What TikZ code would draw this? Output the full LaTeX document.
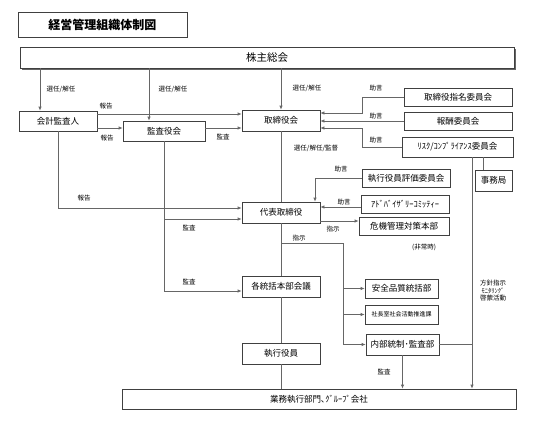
\documentclass[tikz,border=0pt]{standalone}
\usepackage{fontspec}
\setmainfont{Noto Sans CJK JP}
\usetikzlibrary{arrows.meta,shadows}

\begin{document}
\begin{tikzpicture}
  [x=1pt,y=-1pt,
   box/.style={draw=black!75,line width=.7pt,fill=white,inner sep=1pt,font=\fontsize{8.5}{10}\selectfont},
   lbl/.style={inner sep=0pt,font=\fontsize{6.5}{7.5}\selectfont},
   line/.style={draw=black!60,line width=.7pt},
   arr/.style={line,-{Latex[length=4pt,width=3.5pt]}}]

  \fill[white] (0,0) rectangle (552,432);
  \useasboundingbox (0,0) rectangle (552,432);

  % boxes
  \node (title)[box,minimum width=169pt,minimum height=25pt,font=\fontsize{12}{14}\selectfont\bfseries] at (102.5,24.5) {経営管理組織体制図};
  \node (kabunushi)[box,minimum width=494pt,minimum height=21pt,font=\fontsize{10.5}{12}\selectfont,
    drop shadow={shadow xshift=2pt,shadow yshift=-2pt,fill=black!60,opacity=1}] at (267,57.5) {株主総会};
  \node (kaikei)[box,minimum width=78pt,minimum height=20pt] at (58,121) {会計監査人};
  \node (kansayaku)[box,minimum width=82pt,minimum height=20pt] at (164,131) {監査役会};
  \node (torishimari)[box,minimum width=78pt,minimum height=21pt] at (281,120.5) {取締役会};
  \node (shimei)[box,minimum width=108pt,minimum height=18pt] at (458,97) {取締役指名委員会};
  \node (hoshu)[box,minimum width=108pt,minimum height=18pt] at (458,121) {報酬委員会};
  \node (risk)[box,minimum width=111pt,minimum height=20pt] at (457.5,147) {ﾘｽｸ/ｺﾝﾌﾟﾗｲｱﾝｽ委員会};
  \node (jimu)[box,minimum width=37pt,minimum height=21pt] at (493.5,180.5) {事務局};
  \node (hyoka)[box,minimum width=88pt,minimum height=18pt] at (406,178) {執行役員評価委員会};
  \node (adv)[box,minimum width=88pt,minimum height=18pt] at (405,204) {ｱﾄﾞﾊﾞｲｻﾞﾘｰｺﾐｯﾃｨｰ};
  \node (kiki)[box,minimum width=90pt,minimum height=18pt] at (404,226) {危機管理対策本部};
  \node (daihyo)[box,minimum width=78pt,minimum height=21pt] at (281,212.5) {代表取締役};
  \node (kakutokatsu)[box,minimum width=78pt,minimum height=21pt] at (281,286.5) {各統括本部会議};
  \node (anzen)[box,minimum width=73pt,minimum height=19pt] at (401.5,288.5) {安全品質統括部};
  \node (shachoshitsu)[box,minimum width=73pt,minimum height=19pt,font=\fontsize{6}{7}\selectfont] at (401.5,314.5) {社長室社会活動推進課};
  \node (naibu)[box,minimum width=73pt,minimum height=21pt] at (402.5,344.5) {内部統制･監査部};
  \node (shikko)[box,minimum width=78pt,minimum height=21pt] at (281,353.5) {執行役員};
  \node (gyomu)[box,minimum width=394pt,minimum height=20pt] at (319,399) {業務執行部門､ｸﾞﾙｰﾌﾟ会社};

  % bend points
  \coordinate (kx) at (40,0);
  \coordinate (sx) at (149,0);
  \coordinate (hokoku1) at (0,114);
  \coordinate (hokoku2) at (0,128);
  \coordinate (jogen1) at (362,113);
  \coordinate (jogen2) at (362,128);
  \coordinate (jx) at (483,0);
  \coordinate (hx) at (472,0);
  \coordinate (hyokax) at (315,0);
  \coordinate (advy) at (0,207);
  \coordinate (kikiy) at (0,221);
  \coordinate (shiji1) at (281,243);
  \coordinate (shiji2) at (343,243);
  \coordinate (kansa1) at (164,219);
  \coordinate (kansa2) at (164,291);
  \coordinate (hokoku3) at (58,208);

  % connectors
  \draw[arr] (kabunushi.south -| kx) -- (kaikei.north -| kx);
  \draw[arr] (kabunushi.south -| sx) -- (kansayaku.north -| sx);
  \draw[arr] (kabunushi.south -| torishimari) -- (torishimari.north);
  \draw[arr] (kaikei.east |- hokoku1) -- (torishimari.west |- hokoku1);
  \draw[arr] (kaikei.east |- hokoku2) -- (kansayaku.west |- hokoku2);
  \draw[arr] (kansayaku.east |- hokoku2) -- (torishimari.west |- hokoku2);
  \draw[arr] (shimei.west) -| (jogen1) -- (jogen1 -| torishimari.east);
  \draw[arr] (hoshu.west) -- (hoshu.west -| torishimari.east);
  \draw[arr] (risk.west) -| (jogen2) -- (jogen2 -| torishimari.east);
  \draw[line] (risk.south -| jx) -- (jimu.north -| jx);
  \draw[arr] (risk.south -| hx) -- (gyomu.north -| hx);
  \draw[line] (naibu.east) -- (naibu.east -| hx);
  \draw[arr] (naibu.south) -- (naibu.south |- gyomu.north);
  \draw[arr] (hyoka.west) -| (hyokax |- daihyo.north);
  \draw[arr] (adv.west |- advy) -- (daihyo.east |- advy);
  \draw[arr] (daihyo.east |- kikiy) -- (kiki.west |- kikiy);
  \foreach \from/\to in {torishimari/daihyo,daihyo/kakutokatsu,kakutokatsu/shikko}
    \draw[line] (\from.south) -- (\to.north);
  \draw[line] (shikko.south) -- (shikko.south |- gyomu.north);
  \draw[arr] (shiji1) -| (shiji2 |- naibu.west) -- (naibu.west);
  \foreach \to in {anzen,shachoshitsu}
    \draw[arr] (shiji2 |- \to.west) -- (\to.west);
  \draw[line] (kansayaku.south) -- (kansa2);
  \draw[arr] (kansa1) -- (kansa1 -| daihyo.west);
  \draw[arr] (kansa2) -- (kansa2 -| kakutokatsu.west);
  \draw[arr] (kaikei.south) -- (hokoku3) -- (hokoku3 -| daihyo.west);

  % labels
  \node (l1)[lbl] at (61,89) {選任/解任};
  \node (l2)[lbl] at (173,89) {選任/解任};
  \node (l3)[lbl] at (307,88) {選任/解任};
  \node (l4)[lbl] at (106,106) {報告};
  \node (l5)[lbl] at (107,138) {報告};
  \node (l6)[lbl] at (84,198) {報告};
  \node (l7)[lbl] at (223,137) {監査};
  \node (l8)[lbl] at (189,228) {監査};
  \node (l9)[lbl] at (189,282) {監査};
  \node (l10)[lbl] at (384,372) {監査};
  \node (l11)[lbl] at (376,88) {助言};
  \node (l12)[lbl] at (376,116) {助言};
  \node (l13)[lbl] at (376,140) {助言};
  \node (l14)[lbl] at (341,169) {助言};
  \node (l15)[lbl] at (344,202) {助言};
  \node (l16)[lbl] at (316,148) {選任/解任/監督};
  \node (l17)[lbl] at (333,229) {指示};
  \node (l18)[lbl] at (299,238) {指示};
  \node (l19)[lbl] at (424,247) {(非常時)};
  \node (l20)[lbl,align=center] at (493,291) {方針指示\\ﾓﾆﾀﾘﾝｸﾞ\\啓蒙活動};

\end{tikzpicture}
\end{document}
